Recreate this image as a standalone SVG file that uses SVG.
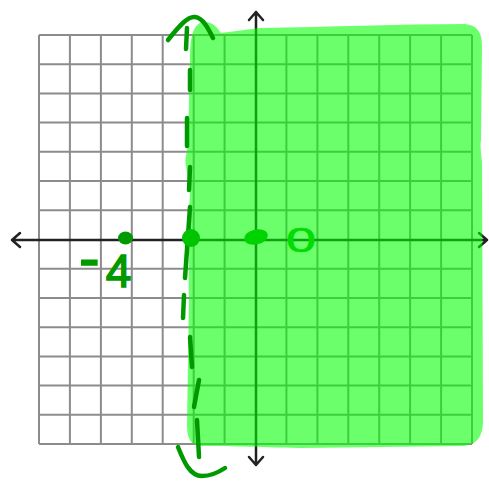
<svg xmlns="http://www.w3.org/2000/svg" width="489" height="482" viewBox="0 0 489 482">
<defs>
<style>
.grid line{stroke:#8c8c8c;stroke-width:2}
.axis{stroke:#222;stroke-width:2.5;fill:none;stroke-linecap:round;stroke-linejoin:round}
.dash{stroke:#009a00;stroke-width:4.5;fill:none;stroke-linecap:round;stroke-linejoin:round}
.lbl{font-family:"Liberation Sans",Arial,sans-serif}
</style>
</defs>
<rect width="489" height="482" fill="#fff"/>
<g id="grid" class="grid">
<line x1="39" y1="35" x2="39" y2="444"/><line x1="69.9" y1="35" x2="69.9" y2="444"/><line x1="100.9" y1="35" x2="100.9" y2="444"/><line x1="131.8" y1="35" x2="131.8" y2="444"/><line x1="162.7" y1="35" x2="162.7" y2="444"/><line x1="193.7" y1="35" x2="193.7" y2="444"/><line x1="224.6" y1="35" x2="224.6" y2="444"/><line x1="286.4" y1="35" x2="286.4" y2="444"/><line x1="317.4" y1="35" x2="317.4" y2="444"/><line x1="348.3" y1="35" x2="348.3" y2="444"/><line x1="379.2" y1="35" x2="379.2" y2="444"/><line x1="410.1" y1="35" x2="410.1" y2="444"/><line x1="441.1" y1="35" x2="441.1" y2="444"/><line x1="472" y1="35" x2="472" y2="444"/>
<line x1="39" y1="35" x2="472" y2="35"/><line x1="39" y1="64.2" x2="472" y2="64.2"/><line x1="39" y1="93.4" x2="472" y2="93.4"/><line x1="39" y1="122.6" x2="472" y2="122.6"/><line x1="39" y1="151.8" x2="472" y2="151.8"/><line x1="39" y1="181.1" x2="472" y2="181.1"/><line x1="39" y1="210.3" x2="472" y2="210.3"/><line x1="39" y1="268.7" x2="472" y2="268.7"/><line x1="39" y1="297.9" x2="472" y2="297.9"/><line x1="39" y1="327.2" x2="472" y2="327.2"/><line x1="39" y1="356.4" x2="472" y2="356.4"/><line x1="39" y1="385.6" x2="472" y2="385.6"/><line x1="39" y1="414.8" x2="472" y2="414.8"/><line x1="39" y1="444" x2="472" y2="444"/>
</g>
<g id="axes">
<path class="axis" d="M12 240 H487 M20 233 L12 240 L20 247 M479 233 L487 240 L479 247"/>
<path class="axis" d="M256 12 V465 M249 20 L256 12 L263 20 M249 457 L256 465 L263 457"/>
</g>
<g id="shading">
<path fill="#00ff00" fill-opacity="0.58" d="M190 60 C190 40 192 22 205 22 C214 22 218 29 221 33 L260 28 C330 27 400 24 465 24 C477 25 482 32 482 46 L481 140 C480 146 481 152 482 162 L483 420 C483 438 476 445 463 446 L300 448 C260 447 222 446 202 446 C191 446 187 439 187 425 L189 300 C188 272 190 252 188 236 C186 222 190 206 190 192 L186 166 C184 158 188 150 188 144 Z"/>
</g>
<g id="boundary">
<path class="dash" d="M168 40 C180 25 188 16 195 17 C203 18 208 28 213 38"/>
<path class="dash" d="M187 28 L186 49 M190 70 L190 90 M187 118 L187 146 M190 167 L189 190 M190 207 L185 278 M184 295 L183 318 M190 337 L192 367 M199 380 L194 407 M197 420 L199 457"/>
<path class="dash" d="M178 447 C184 462 190 476 202 476 C212 476 219 472 225 468"/>
</g>
<g id="points">
<ellipse cx="125.5" cy="238" rx="7.5" ry="6.5" fill="#009a00"/>
<circle cx="191" cy="238" r="9" fill="#00c400"/>
<ellipse cx="256" cy="237" rx="12" ry="7.5" fill="#00d400" transform="rotate(-12 256 237)"/>
</g>
<g id="labels">
<text class="lbl" x="79" y="287" font-size="46" fill="#009a00" stroke="#009a00" stroke-width="1.5"><tspan font-size="62" dy="-8">-</tspan><tspan dx="6" dy="8">4</tspan></text>
<text class="lbl" transform="scale(1.5,1)" x="200.7" y="252" font-size="36" text-anchor="middle" fill="#00dd00" stroke="#00dd00" stroke-width="0.6">0</text>
</g>
</svg>
